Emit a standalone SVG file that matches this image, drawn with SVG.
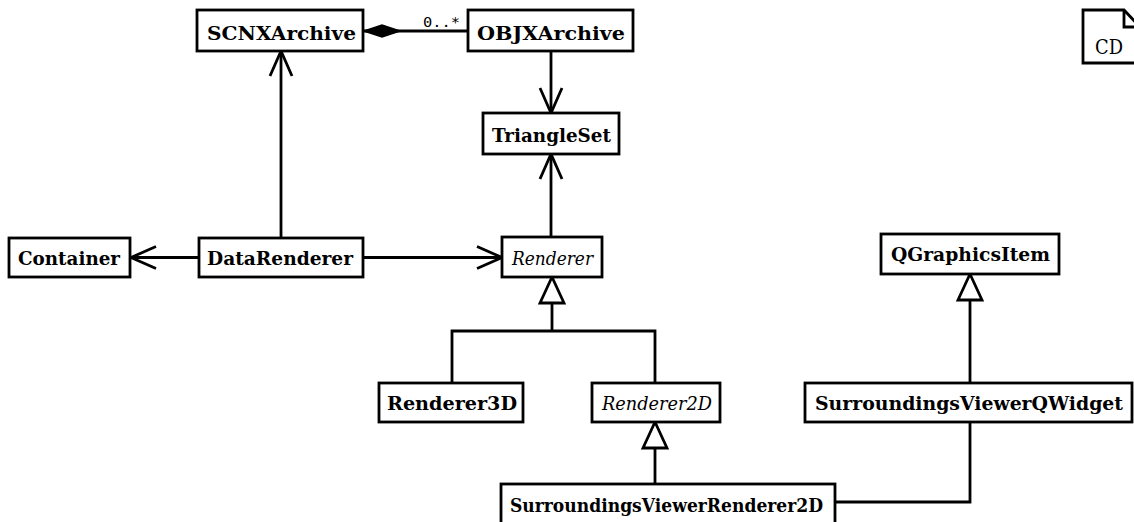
<svg xmlns="http://www.w3.org/2000/svg" width="1134" height="522" viewBox="0 0 1134 522">
<style>
.box{fill:#fff;stroke:#000;stroke-width:2.8}
.lbl{font-family:"DejaVu Serif","Liberation Serif",serif;font-weight:bold;font-size:18.5px;fill:#000}
.ital{font-family:"DejaVu Serif","Liberation Serif",serif;font-style:italic;font-size:18.5px;fill:#000}
.note{font-family:"DejaVu Serif","Liberation Serif",serif;font-size:20px;fill:#000}
.mult{font-family:"DejaVu Sans Mono","Liberation Mono",monospace;font-size:14px;fill:#000}
.edge{fill:none;stroke:#000;stroke-width:2.8}
</style>
<defs>
<marker id="open" markerUnits="userSpaceOnUse" viewBox="-30 -15 34 30" refX="0" refY="0" markerWidth="34" markerHeight="30" orient="auto" overflow="visible">
<path d="M-25,-11 L0,0 L-25,11" fill="none" stroke="#000" stroke-width="2.8"/>
</marker>
<marker id="gen" markerUnits="userSpaceOnUse" viewBox="-30 -15 34 30" refX="0" refY="0" markerWidth="34" markerHeight="30" orient="auto" overflow="visible">
<path d="M0,0 L-26,-12 L-26,12 Z" fill="#fff" stroke="#000" stroke-width="2.8"/>
</marker>
<marker id="diamond" markerUnits="userSpaceOnUse" viewBox="-40 -10 44 20" refX="0" refY="0" markerWidth="44" markerHeight="20" orient="auto" overflow="visible">
<path d="M0,0 L-18,-6 L-36,0 L-18,6 Z" fill="#000" stroke="#000" stroke-width="1.5"/>
</marker>
</defs>

<g id="connectors">
<path class="edge" d="M468,31 L364,31" marker-end="url(#diamond)"/>
<text class="mult" x="423" y="27" textLength="37" lengthAdjust="spacingAndGlyphs">0..*</text>
<path class="edge" d="M551,51 L551,113" marker-end="url(#open)"/>
<path class="edge" d="M281,238 L281,51" marker-end="url(#open)"/>
<path class="edge" d="M199,257.5 L131,257.5" marker-end="url(#open)"/>
<path class="edge" d="M363,257.5 L502,257.5" marker-end="url(#open)"/>
<path class="edge" d="M551,237 L551,154" marker-end="url(#open)"/>
<path class="edge" d="M452,383 L452,331 L655,331 L655,383"/>
<path class="edge" d="M552,331 L552,277" marker-end="url(#gen)"/>
<path class="edge" d="M655,484 L655,422" marker-end="url(#gen)"/>
<path class="edge" d="M970,383 L970,274" marker-end="url(#gen)"/>
<path class="edge" d="M835,502 L970,502 L970,422"/>
</g>

<g id="SCNXArchive">
<rect class="box" x="197" y="10" width="166" height="41"/>
<text class="lbl" x="207" y="40" textLength="149" lengthAdjust="spacingAndGlyphs">SCNXArchive</text>
</g>
<g id="OBJXArchive">
<rect class="box" x="468" y="10" width="165" height="41"/>
<text class="lbl" x="477" y="40" textLength="148" lengthAdjust="spacingAndGlyphs">OBJXArchive</text>
</g>
<g id="TriangleSet">
<rect class="box" x="483" y="113" width="136" height="41"/>
<text class="lbl" x="492" y="142" textLength="119" lengthAdjust="spacingAndGlyphs">TriangleSet</text>
</g>
<g id="Container">
<rect class="box" x="9" y="238" width="121" height="39"/>
<text class="lbl" x="18" y="265" textLength="102" lengthAdjust="spacingAndGlyphs">Container</text>
</g>
<g id="DataRenderer">
<rect class="box" x="199" y="238" width="164" height="39"/>
<text class="lbl" x="207" y="265" textLength="146" lengthAdjust="spacingAndGlyphs">DataRenderer</text>
</g>
<g id="Renderer">
<rect class="box" x="502" y="237" width="100" height="40"/>
<text class="ital" x="512" y="265" textLength="81" lengthAdjust="spacingAndGlyphs">Renderer</text>
</g>
<g id="QGraphicsItem">
<rect class="box" x="881" y="234" width="178" height="40"/>
<text class="lbl" x="891" y="261" textLength="159" lengthAdjust="spacingAndGlyphs">QGraphicsItem</text>
</g>
<g id="Renderer3D">
<rect class="box" x="379" y="383" width="144" height="39"/>
<text class="lbl" x="387" y="410" textLength="130" lengthAdjust="spacingAndGlyphs">Renderer3D</text>
</g>
<g id="Renderer2D">
<rect class="box" x="592" y="383" width="128" height="39"/>
<text class="ital" x="602" y="410" textLength="110" lengthAdjust="spacingAndGlyphs">Renderer2D</text>
</g>
<g id="SurroundingsViewerQWidget">
<rect class="box" x="805" y="383" width="327" height="39"/>
<text class="lbl" x="815" y="410" textLength="308" lengthAdjust="spacingAndGlyphs">SurroundingsViewerQWidget</text>
</g>
<g id="SurroundingsViewerRenderer2D">
<rect class="box" x="501" y="484" width="334" height="40"/>
<text class="lbl" x="510" y="512" textLength="313" lengthAdjust="spacingAndGlyphs">SurroundingsViewerRenderer2D</text>
</g>
<g id="CD">
<path class="box" d="M1083,10 L1124,10 L1140,27 L1140,63 L1083,63 Z"/>
<path class="edge" d="M1124,10 L1124,27 L1140,27"/>
<text class="note" x="1095" y="54" textLength="28" lengthAdjust="spacingAndGlyphs">CD</text>
</g>
</svg>
